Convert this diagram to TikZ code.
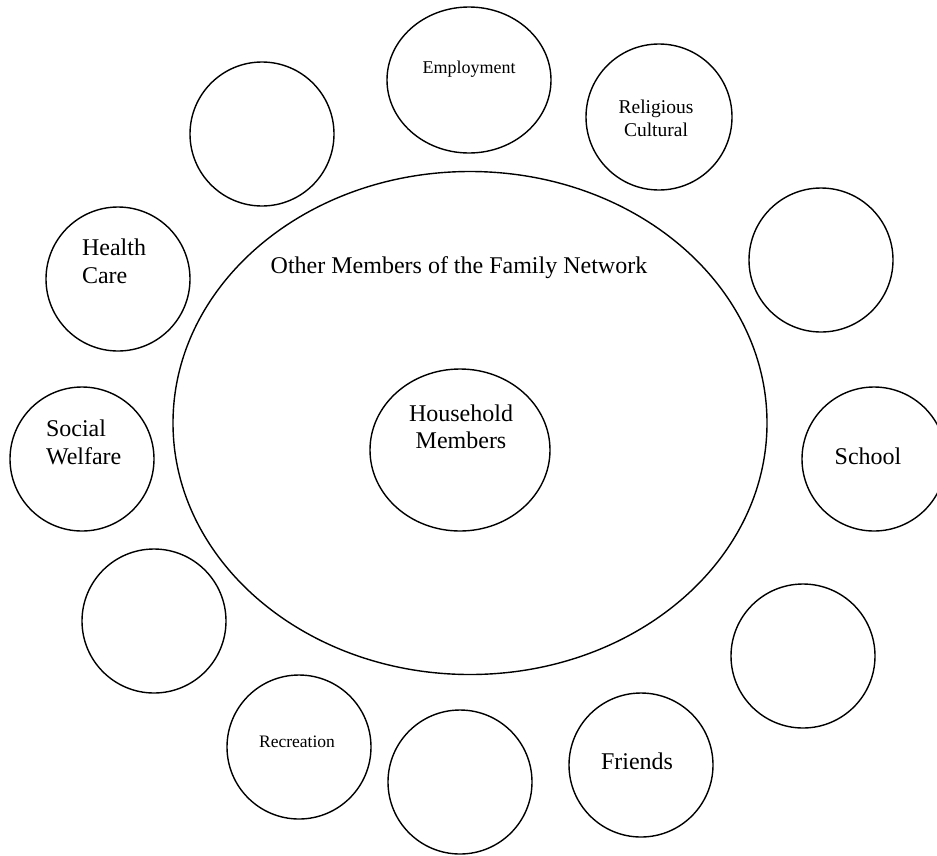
\documentclass[tikz,border=0pt]{standalone}
\usepackage{fontspec}
\setmainfont{Liberation Serif}
\usetikzlibrary{shapes.geometric}

\begin{document}
\begin{tikzpicture}[x=1pt, y=-1pt, line width=1.4pt,
  ring/.style={draw, ellipse, inner sep=0pt, minimum width=144pt, minimum height=144pt},
  txt/.style={font=\fontsize{24}{28}\selectfont, anchor=base},
  txtm/.style={font=\fontsize{19.5}{23}\selectfont, anchor=base},
  txts/.style={font=\fontsize{18}{22}\selectfont, anchor=base}]

\useasboundingbox (0,0) rectangle (937,855);

% --- Red familiar y hogar ---
\node[ring, minimum width=594pt, minimum height=503pt] (red) at (470,423) {};
\node[ring, minimum width=180pt, minimum height=162pt] (hogar) at (460,450) {};

% --- Circulos con nombre ---
\node[ring, minimum width=164pt, minimum height=146pt] (empleo) at (469,80) {};
\node[ring, minimum width=146pt, minimum height=146pt] (religion) at (659,117) {};
\node[ring] (salud) at (118,279) {};
\node[ring] (social) at (82,459) {};
\node[ring] (escuela) at (874,459) {};
\node[ring] (recreo) at (299,747) {};
\node[ring] (amigos) at (641,765) {};

% --- Circulos vacios ---
\foreach \n/\x/\y in {v1/262/134, v2/821/260, v3/154/621, v4/803/656, v5/460/782} {
  \node[ring] (\n) at (\x,\y) {};
}

% --- Nombres ---
\node[txt] (tred) at (459,273) {Other Members of the Family Network};
\node[txt] (thogar1) at (461,421) {Household};
\node[txt] (thogar2) at (461,448) {Members};

\node[txts] (templeo) at (469,73) {Employment};
\node[txtm] (trel1) at (656,113) {Religious};
\node[txtm] (trel2) at (656,136) {Cultural};

\node[txt, anchor=base west] (tsalud1) at (78,255) {Health};
\node[txt, anchor=base west] (tsalud2) at (78,283) {Care};
\node[txt, anchor=base west] (tsocial1) at (42,436) {Social};
\node[txt, anchor=base west] (tsocial2) at (42,464) {Welfare};

\node[txt] (tescuela) at (868,464) {School};
\node[txt] (tamigos) at (637,769) {Friends};
\node[font=\fontsize{17.5}{21}\selectfont, anchor=base] (trecreo) at (297,747) {Recreation};

\end{tikzpicture}
\end{document}
